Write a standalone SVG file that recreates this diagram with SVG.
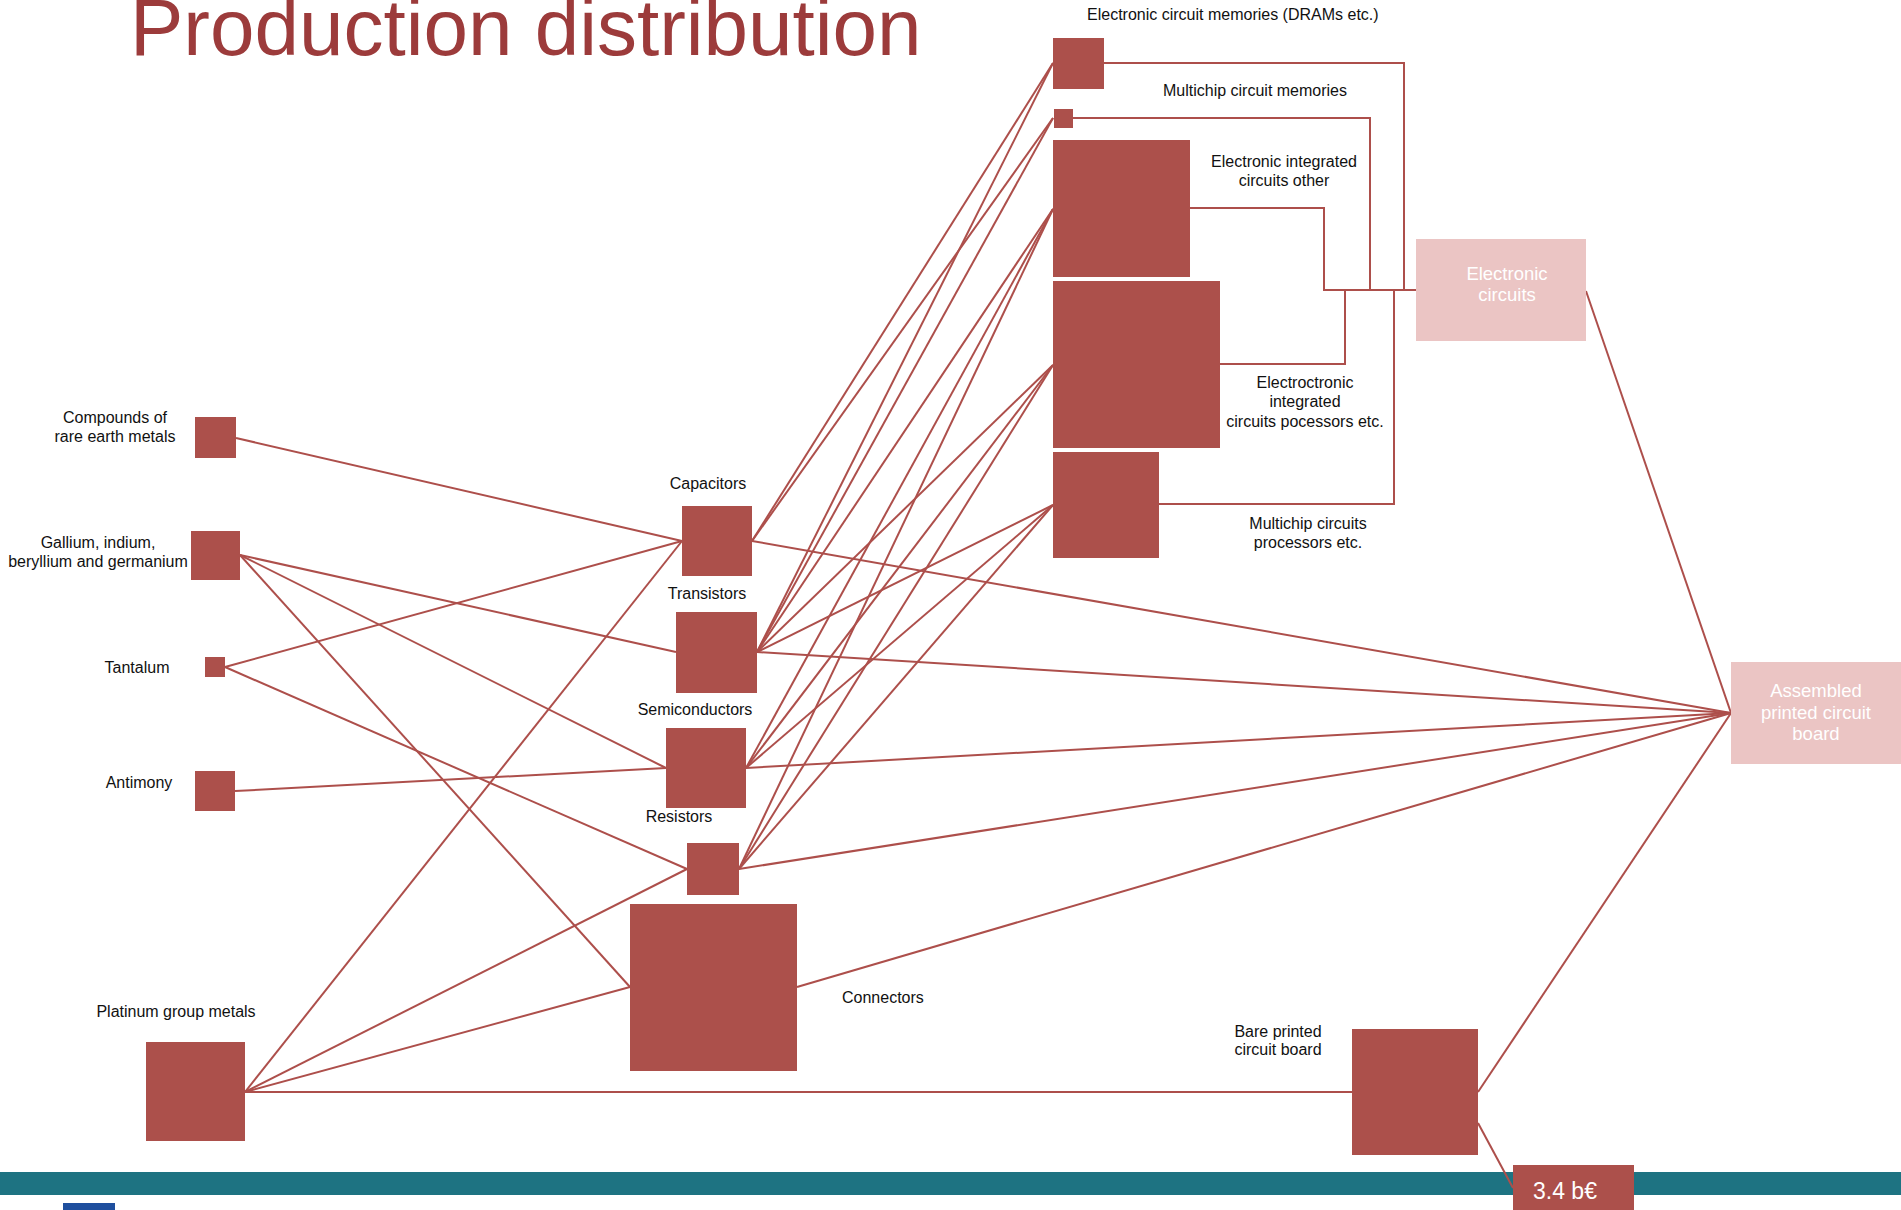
<svg xmlns="http://www.w3.org/2000/svg" width="1901" height="1210" viewBox="0 0 1901 1210">
<style>
.n{fill:#ac504b}
.p{fill:#ebc5c4}
.l{font-family:"Liberation Sans",Arial,sans-serif;font-size:16px;fill:#111}
.w{font-family:"Liberation Sans",Arial,sans-serif;font-size:18.5px;fill:#fff}
.c line,.c polyline{stroke:#ad4f4b;stroke-width:2;fill:none}
.m{text-anchor:middle}
</style>
<rect width="1901" height="1210" fill="#fff"/>
<text x="130" y="55" font-family="Liberation Sans,Arial,sans-serif" font-size="80" fill="#9c3b3b">Production distribution</text>
<rect x="0" y="1172" width="1901" height="23" fill="#1e7382"/>
<rect x="63" y="1203" width="52" height="7" fill="#1f4f9e"/>
<g class="c" id="connectors">
<line x1="236" y1="438" x2="682" y2="541"/>
<line x1="240" y1="555" x2="676" y2="652"/>
<line x1="240" y1="555" x2="666" y2="768"/>
<line x1="240" y1="555" x2="630" y2="987"/>
<line x1="225" y1="667" x2="682" y2="541"/>
<line x1="225" y1="667" x2="687" y2="869"/>
<line x1="235" y1="791" x2="666" y2="768"/>
<line x1="245" y1="1092" x2="682" y2="541"/>
<line x1="245" y1="1092" x2="687" y2="869"/>
<line x1="245" y1="1092" x2="630" y2="987"/>
<line x1="245" y1="1092" x2="1352" y2="1092"/>
<line x1="752" y1="541" x2="1053" y2="63"/>
<line x1="752" y1="541" x2="1053" y2="118"/>
<line x1="757" y1="652" x2="1053" y2="63"/>
<line x1="757" y1="652" x2="1053" y2="118"/>
<line x1="757" y1="652" x2="1053" y2="209"/>
<line x1="757" y1="652" x2="1053" y2="365"/>
<line x1="757" y1="652" x2="1053" y2="505"/>
<line x1="746" y1="768" x2="1053" y2="209"/>
<line x1="746" y1="768" x2="1053" y2="365"/>
<line x1="746" y1="768" x2="1053" y2="505"/>
<line x1="739" y1="869" x2="1053" y2="209"/>
<line x1="739" y1="869" x2="1053" y2="365"/>
<line x1="739" y1="869" x2="1053" y2="505"/>
<line x1="752" y1="541" x2="1731" y2="713"/>
<line x1="757" y1="652" x2="1731" y2="713"/>
<line x1="746" y1="768" x2="1731" y2="713"/>
<line x1="739" y1="869" x2="1731" y2="713"/>
<line x1="797" y1="987" x2="1731" y2="713"/>
<line x1="1586" y1="291" x2="1731" y2="713"/>
<line x1="1478" y1="1092" x2="1731" y2="713"/>
<line x1="1478" y1="1123" x2="1513" y2="1188"/>
<polyline points="1104,63 1404,63 1404,290"/>
<polyline points="1073,118 1370,118 1370,290"/>
<polyline points="1190,208 1324,208 1324,290 1416,290"/>
<polyline points="1220,364 1345,364 1345,290"/>
<polyline points="1159,504 1394,504 1394,290"/>
</g>
<g id="compounds"><rect class="n" x="195" y="417" width="41" height="41"/><text class="l m" x="115" y="423">Compounds of</text><text class="l m" x="115" y="442">rare earth metals</text></g>
<g id="gallium"><rect class="n" x="191" y="531" width="49" height="49"/><text class="l m" x="98" y="548">Gallium, indium,</text><text class="l m" x="98" y="567">beryllium and germanium</text></g>
<g id="tantalum"><rect class="n" x="205" y="657" width="20" height="20"/><text class="l m" x="137" y="673">Tantalum</text></g>
<g id="antimony"><rect class="n" x="195" y="771" width="40" height="40"/><text class="l m" x="139" y="788">Antimony</text></g>
<g id="platinum"><rect class="n" x="146" y="1042" width="99" height="99"/><text class="l m" x="176" y="1017">Platinum group metals</text></g>
<g id="capacitors"><rect class="n" x="682" y="506" width="70" height="70"/><text class="l m" x="708" y="489">Capacitors</text></g>
<g id="transistors"><rect class="n" x="676" y="612" width="81" height="81"/><text class="l m" x="707" y="599">Transistors</text></g>
<g id="semiconductors"><rect class="n" x="666" y="728" width="80" height="80"/><text class="l m" x="695" y="715">Semiconductors</text></g>
<g id="resistors"><rect class="n" x="687" y="843" width="52" height="52"/><text class="l m" x="679" y="822">Resistors</text></g>
<g id="connectors-node"><rect class="n" x="630" y="904" width="167" height="167"/><text class="l" x="842" y="1003">Connectors</text></g>
<g id="dram"><rect class="n" x="1053" y="38" width="51" height="51"/><text class="l" x="1087" y="20">Electronic circuit memories (DRAMs etc.)</text></g>
<g id="mcm"><rect class="n" x="1054" y="109" width="19" height="19"/><text class="l m" x="1255" y="96">Multichip circuit memories</text></g>
<g id="eic-other"><rect class="n" x="1053" y="140" width="137" height="137"/><text class="l m" x="1284" y="167">Electronic integrated</text><text class="l m" x="1284" y="186">circuits other</text></g>
<g id="eic-proc"><rect class="n" x="1053" y="281" width="167" height="167"/><text class="l m" x="1305" y="388">Electroctronic</text><text class="l m" x="1305" y="407">integrated</text><text class="l m" x="1305" y="427">circuits pocessors etc.</text></g>
<g id="mcp"><rect class="n" x="1053" y="452" width="106" height="106"/><text class="l m" x="1308" y="529">Multichip circuits</text><text class="l m" x="1308" y="548">processors etc.</text></g>
<g id="electronic-circuits"><rect class="p" x="1416" y="239" width="170" height="102"/><text class="w m" x="1507" y="280">Electronic</text><text class="w m" x="1507" y="301">circuits</text></g>
<g id="assembled"><rect class="p" x="1731" y="662" width="170" height="102"/><text class="w m" x="1816" y="697">Assembled</text><text class="w m" x="1816" y="719">printed circuit</text><text class="w m" x="1816" y="740">board</text></g>
<g id="bare-pcb"><rect class="n" x="1352" y="1029" width="126" height="126"/><text class="l m" x="1278" y="1037">Bare printed</text><text class="l m" x="1278" y="1055">circuit board</text></g>
<g id="value"><rect class="n" x="1513" y="1165" width="121" height="45"/><text x="1533" y="1199" font-family="Liberation Sans,Arial,sans-serif" font-size="23" fill="#fff">3.4 b€</text></g>
</svg>
